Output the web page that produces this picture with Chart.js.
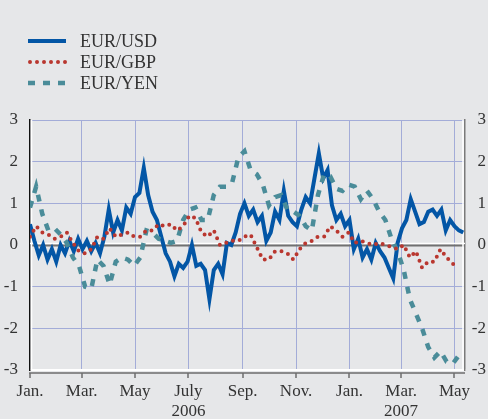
<!DOCTYPE html>
<html>
<head>
<meta charset="utf-8">
<script src="https://cdn.jsdelivr.net/npm/chart.js@4"></script>
<style>
  html, body { margin: 0; padding: 0; background: #e6e7e9; }
  #wrap { width: 488px; height: 419px; }
</style>
</head>
<body>
<div id="wrap"><canvas id="fxChart" width="488" height="419"></canvas></div>
<script>
// Standardised exchange-rate deviations, Jan. 2006 - May 2007
// x values are days counted from 1 Jan. 2006
const FONT = '"Liberation Serif", "Times New Roman", serif';

const monthDays = [0, 59, 120, 181, 243, 304, 365, 424, 485];
const monthLabels = ["Jan.", "Mar.", "May", "July", "Sep.", "Nov.", "Jan.", "Mar.", "May"];
const yearLabels = ["", "", "", "2006", "", "", "", "2007", ""];
const yTicks = [-3, -2, -1, 0, 1, 2, 3];

const seriesNames = ["EUR/USD", "EUR/GBP", "EUR/YEN"];

// EUR/USD, one reading every 5 days
const usdStep = 5;
const usdValues = [
  0.5, 0.1, -0.25, 0.0, -0.35, -0.1, -0.4, 0.0, -0.2, 0.1,
  -0.15, 0.15, -0.1, 0.1, -0.15, 0.05, -0.2, 0.2, 0.85, 0.3,
  0.6, 0.35, 0.9, 0.75, 1.15, 1.25, 1.85, 1.2, 0.8, 0.6,
  0.2, -0.2, -0.4, -0.75, -0.45, -0.55, -0.4, 0.0, -0.5, -0.45,
  -0.6, -1.3, -0.6, -0.45, -0.7, 0.05, 0.0, 0.3, 0.75, 1.0,
  0.7, 0.85, 0.55, 0.7, 0.1, 0.3, 0.8, 0.6, 1.3, 0.7,
  0.55, 0.45, 0.85, 1.15, 1.0, 1.6, 2.2, 1.6, 1.8, 0.95,
  0.6, 0.75, 0.45, 0.6, -0.1, 0.15, -0.3, -0.1, -0.35, 0.05,
  -0.15, -0.3, -0.55, -0.8, 0.05, 0.4, 0.6, 1.1, 0.8, 0.5,
  0.55, 0.8, 0.85, 0.7, 0.85, 0.35, 0.6, 0.45, 0.35, 0.3
];

// EUR/GBP and EUR/YEN, one reading every 7 days
const weekStep = 7;
const gbpValues = [
  0.2, 0.45, 0.3, 0.25, 0.15, 0.2, 0.3, 0.05, -0.15, -0.2,
  -0.1, 0.2, 0.15, 0.4, 0.2, 0.25, 0.3, 0.2, 0.2, 0.35,
  0.35, 0.5, 0.45, 0.5, 0.35, 0.45, 0.7, 0.65, 0.3, 0.2,
  0.35, 0.0, 0.05, 0.1, 0.1, 0.2, 0.25, -0.05, -0.35, -0.35,
  -0.15, -0.15, -0.2, -0.35, -0.1, 0.05, 0.1, 0.2, 0.2, 0.45,
  0.35, 0.2, 0.3, 0.05, 0.1, 0.05, 0.0, 0.05, 0.0, -0.05,
  -0.1, 0.0, -0.3, -0.15, -0.55, -0.4, -0.4, -0.1, -0.3, -0.45,
  -0.55
];
const yenValues = [
  0.9, 1.4, 0.75, 0.35, 0.4, 0.25, 0.05, -0.3, -0.5, -1.0,
  -1.05, -0.35, -0.5, -0.95, -0.4, -0.3, -0.35, -0.5, -0.3, 0.35,
  0.3, 0.15, 0.1, 0.05, 0.1, 0.6, 0.85, 0.9, 0.6, 0.6,
  1.2, 1.4, 1.4, 1.5, 2.1, 2.25, 1.8, 1.7, 1.45, 0.95,
  1.15, 1.2, 0.85, 0.8, 0.7, 0.45, 0.35, 1.2, 1.7, 1.65,
  1.35, 1.3, 1.45, 1.4, 1.1, 1.3, 1.1, 0.8, 0.6, 0.15,
  -0.15, -0.6, -1.3, -1.65, -2.0, -2.45, -2.7, -2.55, -2.8, -2.85,
  -2.65
];

function toPoints(values, step) {
  return values.map((v, i) => ({ x: i * step, y: v }));
}

// legend drawn at the top left, using each dataset's own style
const legendPlugin = {
  id: "sideLegend",
  afterDraw(chart) {
    const ctx = chart.ctx;
    const rows = [
      { ds: chart.data.datasets[0], y: 41 },
      { ds: chart.data.datasets[1], y: 62 },
      { ds: chart.data.datasets[2], y: 83 },
    ];
    ctx.save();
    rows.forEach((r) => {
      ctx.strokeStyle = r.ds.borderColor;
      ctx.lineWidth = r.ds.borderWidth;
      ctx.lineCap = r.ds.borderCapStyle || "butt";
      ctx.setLineDash(r.ds.borderDash || []);
      ctx.beginPath();
      ctx.moveTo(r.ds.borderCapStyle === "round" ? 30 : 28, r.y);
      ctx.lineTo(66, r.y);
      ctx.stroke();
      ctx.setLineDash([]);
      ctx.fillStyle = "#333333";
      ctx.font = "18px " + FONT;
      ctx.textBaseline = "middle";
      ctx.fillText(r.ds.label, 80, r.y + 1);
    });
    ctx.restore();
  },
};

// zero line, frame edges and the tick strip below the plot
const framePlugin = {
  id: "frame",
  beforeDatasetsDraw(chart) {
    const { ctx, chartArea: a, scales } = chart;
    const y0 = scales.y.getPixelForValue(0);
    ctx.save();
    ctx.strokeStyle = "#ffffff";
    ctx.lineWidth = 1.5;
    ctx.beginPath();
    ctx.moveTo(a.left, y0 - 1.5);
    ctx.lineTo(a.right, y0 - 1.5);
    ctx.stroke();
    ctx.strokeStyle = "#707070";
    ctx.lineWidth = 2;
    ctx.beginPath();
    ctx.moveTo(a.left, y0 + 0.5);
    ctx.lineTo(a.right, y0 + 0.5);
    ctx.stroke();
    // white inner edges
    ctx.strokeStyle = "#ffffff";
    ctx.lineWidth = 1.5;
    ctx.beginPath();
    ctx.moveTo(a.right - 2, a.top);
    ctx.lineTo(a.right - 2, a.bottom);
    ctx.moveTo(a.left + 1.5, a.top);
    ctx.lineTo(a.left + 1.5, a.bottom);
    ctx.stroke();
    ctx.restore();
  },
  afterDraw(chart) {
    const { ctx, chartArea: a, scales } = chart;
    const yLine = a.bottom + 3;
    ctx.save();
    ctx.strokeStyle = "#6e6e6e";
    ctx.lineWidth = 1.5;
    ctx.beginPath();
    ctx.moveTo(a.left - 1, yLine);
    ctx.lineTo(a.right, yLine);
    monthDays.forEach((d) => {
      const px = Math.round(scales.x.getPixelForValue(d));
      ctx.moveTo(px, yLine);
      ctx.lineTo(px, yLine + 5);
    });
    ctx.stroke();
    ctx.restore();
  },
};

function initChart() {
  const ctx = document.getElementById("fxChart").getContext("2d");
  return new Chart(ctx, {
    type: "line",
    data: {
      datasets: [
        {
          label: seriesNames[0],
          data: toPoints(usdValues, usdStep),
          borderColor: "#0356a6",
          borderWidth: 4,
          borderJoinStyle: "miter",
          pointRadius: 0,
          tension: 0,
          order: 2,
        },
        {
          label: seriesNames[1],
          data: toPoints(gbpValues, weekStep),
          borderColor: "#b9372f",
          borderWidth: 4,
          borderDash: [0, 7],
          borderCapStyle: "round",
          pointRadius: 0,
          tension: 0,
          order: 0,
        },
        {
          label: seriesNames[2],
          data: toPoints(yenValues, weekStep),
          borderColor: "#4a8c99",
          borderWidth: 4.5,
          borderDash: [7, 8],
          borderCapStyle: "butt",
          pointRadius: 0,
          tension: 0,
          order: 1,
        },
      ],
    },
    options: {
      responsive: false,
      animation: false,
      devicePixelRatio: 1,
      layout: { padding: { top: 120, right: 2, left: 0, bottom: 0 } },
      plugins: {
        legend: { display: false },
        tooltip: { enabled: false },
      },
      scales: {
        x: {
          type: "linear",
          min: 0,
          max: 497,
          afterBuildTicks: (scale) => {
            scale.ticks = monthDays.map((d) => ({ value: d }));
          },
          afterFit: (scale) => { scale.height = 49; },
          ticks: {
            autoSkip: false,
            maxRotation: 0,
            padding: 11,
            color: "#333333",
            font: { family: FONT, size: 17 },
            callback: (value, index) =>
              yearLabels[index] ? [monthLabels[index], yearLabels[index]] : monthLabels[index],
          },
          grid: {
            drawTicks: false,
            color: (c) => (c.tick && c.tick.value === 0 ? "rgba(0,0,0,0)" : "#a3acd8"),
            lineWidth: 1,
          },
          border: { color: "#ffffff", width: 2 },
        },
        y: {
          position: "left",
          min: -3,
          max: 3,
          afterBuildTicks: (scale) => {
            scale.ticks = yTicks.map((v) => ({ value: v }));
          },
          afterFit: (scale) => { scale.width = 30; },
          ticks: {
            padding: 12,
            color: "#333333",
            font: { family: FONT, size: 17 },
          },
          grid: {
            drawTicks: false,
            color: (c) =>
              c.tick && (c.tick.value === 0 || c.tick.value === -3) ? "rgba(0,0,0,0)" : "#a3acd8",
            lineWidth: 1,
          },
          border: { color: "#111111", width: 1.5 },
        },
        y2: {
          position: "right",
          min: -3,
          max: 3,
          afterBuildTicks: (scale) => {
            scale.ticks = yTicks.map((v) => ({ value: v }));
          },
          afterFit: (scale) => { scale.width = 21; },
          ticks: {
            crossAlign: "far",
            color: "#333333",
            font: { family: FONT, size: 17 },
          },
          grid: { display: false, drawTicks: false },
          border: { color: "#7a7a7a", width: 1.5 },
        },
      },
    },
    plugins: [framePlugin, legendPlugin],
  });
}

document.addEventListener("DOMContentLoaded", () => {
  initChart();
});
</script>
</body>
</html>
